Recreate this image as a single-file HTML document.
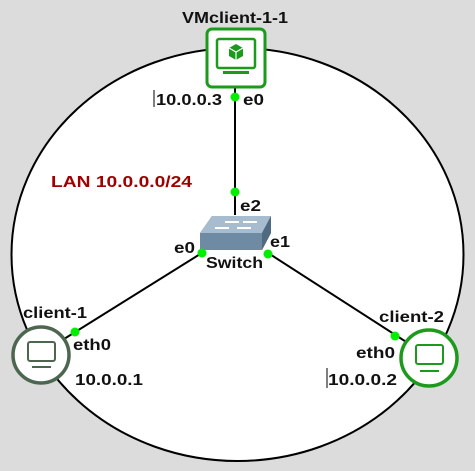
<!DOCTYPE html>
<html><head><style>
body{margin:0;background:#dcdcdc;}
svg{display:block;font-family:"Liberation Sans",sans-serif;font-weight:bold;}
</style></head><body>
<svg width="475" height="471" viewBox="0 0 475 471">
<rect width="475" height="471" fill="#dcdcdc"/>
<ellipse cx="237.5" cy="254.5" rx="226" ry="206.5" fill="#fff" stroke="#000" stroke-width="2"/>
<line x1="235" y1="88" x2="235" y2="215" stroke="#000" stroke-width="2"/>
<line x1="40" y1="354" x2="205" y2="251" stroke="#000" stroke-width="2"/>
<line x1="265" y1="251" x2="428" y2="356" stroke="#000" stroke-width="2"/>
<rect x="207" y="29" width="58" height="58" rx="5" fill="#fff" stroke="#1c9a1c" stroke-width="3"/>
<rect x="217" y="39" width="38" height="29" rx="2" fill="none" stroke="#1c9a1c" stroke-width="2.5"/>
<rect x="223" y="71" width="26" height="3" fill="#1c9a1c"/>
<path d="M236 44 l7 4 v8 l-7 4 l-7 -4 v-8z" fill="#1c9a1c"/>
<path d="M229 48 l7 4 l7 -4 M236 52 v8" stroke="#fff" stroke-width="1.2" fill="none"/>
<path d="M200 233 L212 216 L271 216 L271 233 L262 250 L200 250 Z" fill="#6f8aa3"/>
<path d="M200 233 L212 216 L271 216 L262 233 Z" fill="#a7bccf"/>
<path d="M262 233 L271 216 L271 233 L262 250 Z" fill="#506a82"/>
<path d="M215 228 h14 M225 222 h14 M237 228 h14 M243 222 h14" stroke="#fff" stroke-width="2"/>
<circle cx="41" cy="355" r="28" fill="#fff" stroke="#4d6650" stroke-width="3.5"/>
<rect x="28" y="342" width="27" height="19" rx="2" fill="none" stroke="#4d6650" stroke-width="2"/>
<rect x="32" y="366" width="19" height="2" fill="#4d6650"/>
<circle cx="429" cy="358" r="28" fill="#fff" stroke="#1c9a1c" stroke-width="3.5"/>
<rect x="416" y="345" width="27" height="19" rx="2" fill="none" stroke="#1c9a1c" stroke-width="2"/>
<rect x="420" y="370" width="19" height="2" fill="#1c9a1c"/>
<g fill="#00ee00">
<circle cx="235" cy="97" r="4.5"/><circle cx="235" cy="192" r="4.5"/>
<circle cx="202" cy="253" r="4.5"/><circle cx="268" cy="254" r="4.5"/>
<circle cx="75" cy="332" r="4.5"/><circle cx="395" cy="336" r="4.5"/>
</g>
<g font-size="16" fill="#111" lengthAdjust="spacingAndGlyphs">
<text x="182" y="23" textLength="106" lengthAdjust="spacingAndGlyphs">VMclient-1-1</text>
<text x="156" y="105" textLength="66" lengthAdjust="spacingAndGlyphs">10.0.0.3</text>
<text x="243" y="105" textLength="21" lengthAdjust="spacingAndGlyphs">e0</text>
<text x="240" y="211" textLength="21" lengthAdjust="spacingAndGlyphs">e2</text>
<text x="174" y="253" textLength="21" lengthAdjust="spacingAndGlyphs">e0</text>
<text x="270" y="247" textLength="20" lengthAdjust="spacingAndGlyphs">e1</text>
<text x="206" y="268" textLength="57" lengthAdjust="spacingAndGlyphs">Switch</text>
<text x="23" y="318" textLength="64" lengthAdjust="spacingAndGlyphs">client-1</text>
<text x="73" y="350" textLength="38" lengthAdjust="spacingAndGlyphs">eth0</text>
<text x="75" y="385" textLength="68" lengthAdjust="spacingAndGlyphs">10.0.0.1</text>
<text x="379" y="322" textLength="65" lengthAdjust="spacingAndGlyphs">client-2</text>
<text x="356" y="358" textLength="39" lengthAdjust="spacingAndGlyphs">eth0</text>
<text x="328" y="385" textLength="69" lengthAdjust="spacingAndGlyphs">10.0.0.2</text>
</g>
<text x="51" y="187" font-size="16" fill="#a00000" textLength="141" lengthAdjust="spacingAndGlyphs">LAN 10.0.0.0/24</text>
<line x1="154" y1="90" x2="154" y2="107" stroke="#000" stroke-width="1"/>
<line x1="327" y1="368" x2="327" y2="388" stroke="#000" stroke-width="1"/>
</svg>
</body></html>
